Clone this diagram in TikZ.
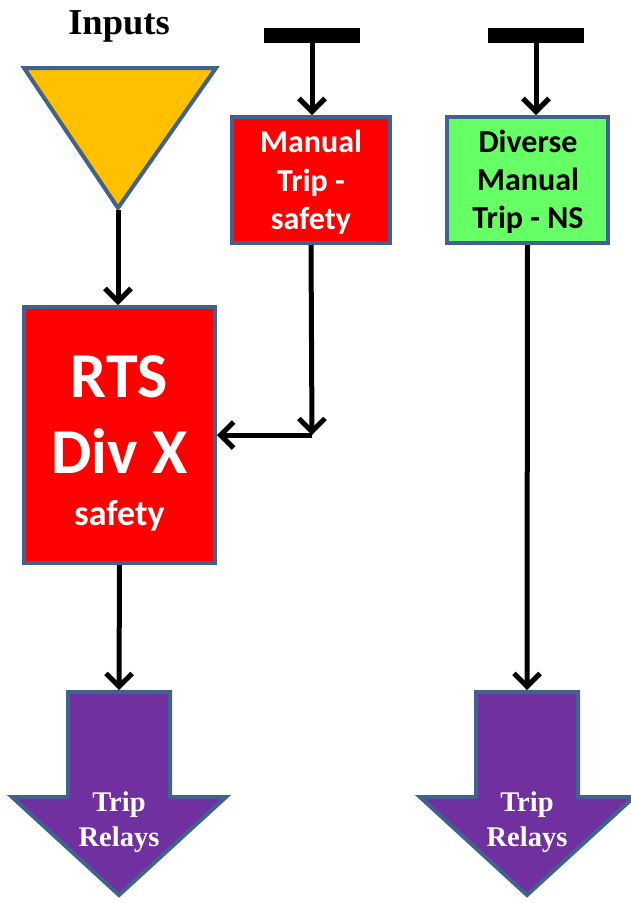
\documentclass[tikz,border=0pt]{standalone}
\usepackage{fontspec}
\setmainfont{Liberation Serif}
\newfontfamily\calib{Carlito}
\usetikzlibrary{arrows.meta}
\definecolor{bord}{RGB}{65,98,142}
\definecolor{inorange}{RGB}{255,192,0}
\definecolor{boxred}{RGB}{255,0,0}
\definecolor{boxgreen}{RGB}{102,255,102}
\definecolor{relaypurple}{RGB}{112,48,160}
\tikzset{
  box/.style={draw=bord, line width=4pt, rectangle, inner sep=0pt},
  bar/.style={fill=black, draw=none, rectangle, inner sep=0pt, minimum width=96pt, minimum height=15pt},
  conn/.style={draw=black, line width=5pt, -{Straight Barb[length=13pt,width=26pt]}},
  bigtxt/.style={font=\calib\bfseries\fontsize{64}{70}\selectfont, text=white, anchor=base, inner sep=0pt},
  midtxt/.style={font=\calib\bfseries\fontsize{32}{36}\selectfont, anchor=base, inner sep=0pt},
  relaytxt/.style={font=\bfseries\fontsize{28.5}{32}\selectfont, text=white, anchor=base, inner sep=0pt},
  relay/.style={draw=bord, fill=relaypurple, line width=4pt},
}
\begin{document}
\begin{tikzpicture}[x=1pt,y=-1pt]
\useasboundingbox (0,0) rectangle (631,903);

% title
\node[anchor=base, inner sep=0pt, font=\bfseries\fontsize{36.5}{40}\selectfont] (title) at (119,34) {Inputs};

% input triangle
\draw[draw=bord, fill=inorange, line width=4pt] (24,68) -- (216,68) -- (118,208) -- cycle;
\coordinate (inapex) at (118,210);

% black bars
\node[bar] (bar1) at (312,35.5) {};
\node[bar] (bar2) at (536,35.5) {};

% boxes
\node[box, fill=boxred, minimum width=158pt, minimum height=126pt] (man) at (311,180) {};
\node[midtxt, text=white] (man1) at (311,152) {Manual};
\node[midtxt, text=white] (man2) at (311,191) {Trip -};
\node[midtxt, text=white] (man3) at (311,229) {safety};

\node[box, fill=boxgreen, minimum width=161pt, minimum height=126pt] (div) at (527.5,180) {};
\node[midtxt, text=black] (div1) at (528,152) {Diverse};
\node[midtxt, text=black] (div2) at (528,190) {Manual};
\node[midtxt, text=black] (div3) at (528,228) {Trip - NS};

\node[box, fill=boxred, minimum width=191pt, minimum height=256pt] (rts) at (119.5,435) {};
\node[bigtxt] (rts1) at (119.5,397) {RTS};
\node[bigtxt] (rts2) at (119.5,473) {Div X};
\node[midtxt, text=white, font=\calib\bfseries\fontsize{36}{40}\selectfont] (rts3) at (119.5,525) {safety};

% trip relay arrows
\draw[relay] (68,692) -- (170,692) -- (170,797) -- (226,797) -- (119,895) -- (12,797) -- (68,797) -- cycle;
\coordinate (rel1top) at (119,690);
\node[relaytxt] (rel1a) at (119,811) {Trip};
\node[relaytxt] (rel1b) at (119,846) {Relays};

\draw[relay] (476,692) -- (578,692) -- (578,797) -- (634,797) -- (527,895) -- (420,797) -- (476,797) -- cycle;
\coordinate (rel2top) at (527,690);
\node[relaytxt] (rel2a) at (527,811) {Trip};
\node[relaytxt] (rel2b) at (527,846) {Relays};

% connectors
\coordinate (corner) at (312,435);
\draw[conn] (bar1.south) -- (bar1.south |- man.north);
\draw[conn] (bar2.south) -- (bar2.south |- div.north);
\draw[conn] (inapex) -- (inapex |- rts.north);
\draw[conn] (man.south) -- (corner);
\draw[conn] (corner) -- (rts.east);
\draw[conn] (rts.south) -- (rel1top);
\draw[conn] (div.south) -- (rel2top);
\end{tikzpicture}
\end{document}
